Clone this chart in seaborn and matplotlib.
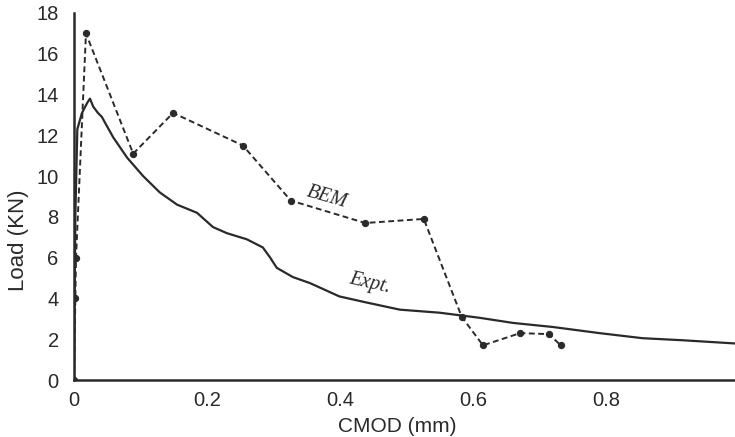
import matplotlib
matplotlib.use("Agg")
import matplotlib.pyplot as plt
import seaborn as sns
import pandas as pd

# Experimental curve (CMOD mm, Load kN)
expt_cmod = [0.0, 0.001, 0.002, 0.005, 0.012, 0.020, 0.024, 0.029, 0.036, 0.042,
             0.047, 0.059, 0.080, 0.104, 0.129, 0.155, 0.185, 0.209, 0.230, 0.260,
             0.284, 0.295, 0.305, 0.329, 0.355, 0.399, 0.44, 0.49, 0.55, 0.61,
             0.66, 0.72, 0.79, 0.855, 0.915, 1.0]
expt_load = [0.0, 4.0, 8.0, 12.3, 13.1, 13.6, 13.8, 13.4, 13.1, 12.9,
             12.6, 11.9, 10.9, 10.0, 9.2, 8.6, 8.2, 7.5, 7.2, 6.9,
             6.5, 6.0, 5.5, 5.05, 4.75, 4.1, 3.8, 3.45, 3.3, 3.05,
             2.8, 2.6, 2.3, 2.05, 1.95, 1.78]

# BEM results
bem_cmod = [0.0, 0.002, 0.003, 0.018, 0.089, 0.149, 0.254, 0.326, 0.438,
            0.526, 0.583, 0.615, 0.671, 0.714, 0.732]
bem_load = [0.0, 4.0, 6.0, 17.0, 11.1, 13.1, 11.5, 8.8, 7.7,
            7.9, 3.1, 1.7, 2.3, 2.25, 1.7]

x_ticks = [0, 0.2, 0.4, 0.6, 0.8, 1]
x_tick_labels = ["0", "0.2", "0.4", "0.6", "0.8", "1"]
y_ticks = [0, 2, 4, 6, 8, 10, 12, 14, 16, 18]

sns.set_style("white")
plt.rcParams['font.family'] = ['Liberation Sans', 'DejaVu Sans']

fig = plt.figure(figsize=(7.35, 4.37), dpi=100)
ax = fig.add_axes([74 / 735, 57 / 437, 665 / 735, 367 / 437])

ink = "#2a2a2a"
df_e = pd.DataFrame({"cmod": expt_cmod, "load": expt_load})
df_b = pd.DataFrame({"cmod": bem_cmod, "load": bem_load})

sns.lineplot(data=df_e, x="cmod", y="load", ax=ax, color=ink, lw=1.6,
             sort=False, estimator=None)
sns.lineplot(data=df_b, x="cmod", y="load", ax=ax, color=ink, lw=1.4,
             linestyle=(0, (3.0, 1.8)), marker="o", markersize=4.5,
             markeredgecolor=ink, sort=False, estimator=None)

ax.set_xlim(0, 1.0)
ax.set_ylim(0, 18)
ax.set_xticks(x_ticks)
ax.set_xticklabels(x_tick_labels)
ax.set_yticks(y_ticks)
ax.tick_params(direction="in", length=5, width=1.2, colors=ink,
               labelsize=14.5)
ax.tick_params(axis="x", pad=8)
ax.tick_params(axis="y", pad=11)
for s in ["top", "right"]:
    ax.spines[s].set_visible(False)
for s in ["left", "bottom"]:
    ax.spines[s].set_color(ink)
    ax.spines[s].set_linewidth(1.8)

ax.set_xlabel("CMOD (mm)", fontsize=15, color=ink)
ax.set_ylabel("Load (KN)", fontsize=16, color=ink)
ax.xaxis.set_label_coords(0.486, -0.10)
ax.yaxis.set_label_coords(-0.068, 0.38)

ax.text(0.380, 8.95, "BEM", family="Liberation Serif", style="italic",
        fontsize=14.5, rotation=-16, color=ink, ha="center", va="center")
ax.text(0.445, 4.75, "Expt.", family="Liberation Serif", style="italic",
        fontsize=14.5, rotation=-13, color=ink, ha="center", va="center")

fig.savefig("out.png", dpi=100, facecolor="white")
